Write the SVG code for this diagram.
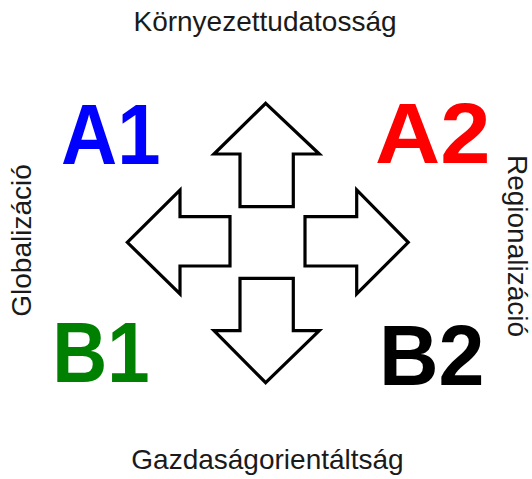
<svg xmlns="http://www.w3.org/2000/svg" width="532" height="479" viewBox="0 0 532 479">
<style>
.lbl{font-family:"Liberation Sans",Arial,sans-serif;font-size:28px;fill:#1a1a1a}
.big{font-family:"Liberation Sans",Arial,sans-serif;font-size:86px;font-weight:bold}
.arrow{fill:#fff;stroke:#000;stroke-width:3.2;stroke-linejoin:miter}
</style>
<rect width="532" height="479" fill="#fff"/>
<g id="label-top"><text class="lbl" x="265" y="31" text-anchor="middle">Környezettudatosság</text></g>
<g id="label-bottom"><text class="lbl" x="267.5" y="469" text-anchor="middle">Gazdaságorientáltság</text></g>
<g id="label-left"><text class="lbl" transform="translate(31,240.5) rotate(-90)" text-anchor="middle">Globalizáció</text></g>
<g id="label-right"><text class="lbl" transform="translate(508,246) rotate(90)" text-anchor="middle">Regionalizáció</text></g>
<g id="A1"><text class="big" transform="translate(61,164) scale(0.905,1)" fill="#0000ff">A1</text></g>
<g id="A2"><text class="big" transform="translate(375,163) scale(1.05,1)" fill="#ff0000">A2</text></g>
<g id="B1"><text class="big" transform="translate(52.3,382) scale(0.886,1)" fill="#008000">B1</text></g>
<g id="B2"><text class="big" transform="translate(379,385) scale(0.96,1)" fill="#000">B2</text></g>
<g id="connectors">
<polygon id="arrow-up" class="arrow" points="265.7,103.3 319.3,154 293.3,154 293.3,206.7 240,206.7 240,154 214,154"/>
<polygon id="arrow-down" class="arrow" points="265.7,382.7 319.3,330.7 293.3,330.7 293.3,278.3 240,278.3 240,330.7 214,330.7"/>
<polygon id="arrow-left" class="arrow" points="127.3,242.3 180,190 180,216.7 230,216.7 230,266 180,266 180,294"/>
<polygon id="arrow-right" class="arrow" points="408.3,242.3 356.7,190 356.7,216.7 305,216.7 305,266 356.7,266 356.7,294"/>
</g>
</svg>
